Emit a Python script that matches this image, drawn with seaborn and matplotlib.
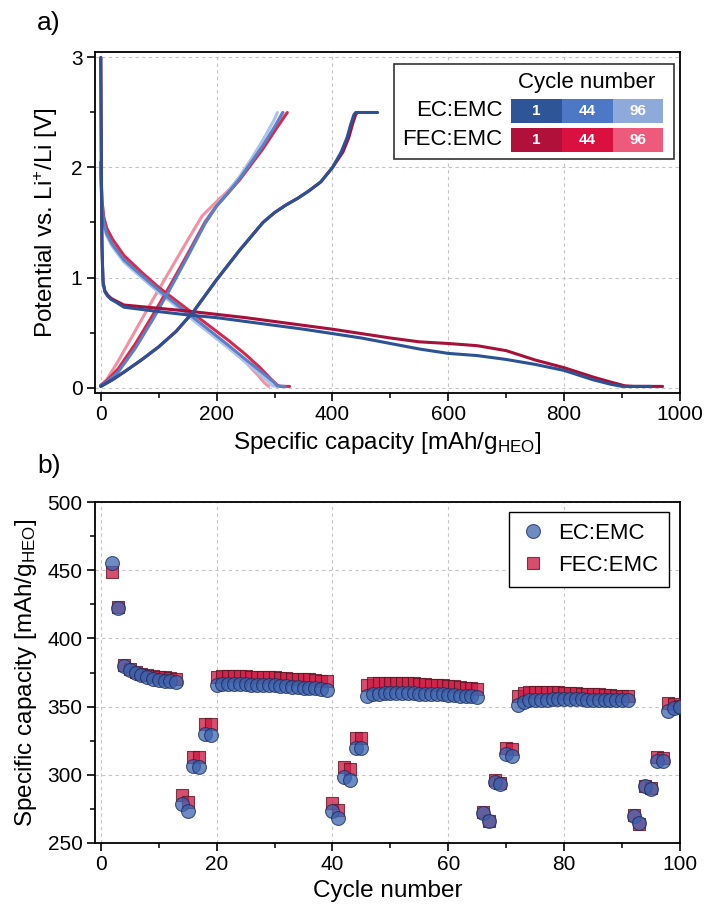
import matplotlib
matplotlib.use("Agg")
import matplotlib.pyplot as plt
from matplotlib.patches import Rectangle
from matplotlib.lines import Line2D
from matplotlib.ticker import MultipleLocator
import seaborn as sns
import pandas as pd

# ---------------- data: voltage profiles (panel a) ----------------
# cycle 1
ec1_dis_x = [0, 0.5, 1, 1.5, 2, 3, 4, 7, 12, 18, 25, 40, 100, 150, 200, 250, 300, 350, 400, 450, 500, 550, 600, 650, 700, 750, 800, 850, 880, 900, 915, 950]
ec1_dis_y = [3.0, 2.5, 2.0, 1.6, 1.3, 1.1, 0.95, 0.87, 0.83, 0.80, 0.78, 0.73, 0.69, 0.66, 0.635, 0.60, 0.565, 0.53, 0.49, 0.45, 0.40, 0.35, 0.31, 0.29, 0.255, 0.21, 0.155, 0.07, 0.03, 0.01, 0.01, 0.01]
fec1_dis_x = [0, 0.5, 1, 1.5, 2, 3, 4, 7, 12, 18, 25, 40, 100, 150, 200, 250, 300, 350, 400, 450, 500, 550, 600, 650, 700, 750, 800, 850, 880, 905, 920, 970]
fec1_dis_y = [3.0, 2.5, 2.0, 1.6, 1.3, 1.1, 0.96, 0.88, 0.84, 0.81, 0.79, 0.75, 0.72, 0.695, 0.665, 0.635, 0.60, 0.565, 0.53, 0.49, 0.45, 0.415, 0.40, 0.38, 0.335, 0.25, 0.18, 0.095, 0.05, 0.015, 0.01, 0.01]
ec1_cha_x = [0, 10, 20, 40, 70, 100, 130, 160, 200, 240, 280, 300, 320, 340, 360, 380, 400, 415, 425, 432, 437, 440, 478]
ec1_cha_y = [0.01, 0.04, 0.07, 0.14, 0.25, 0.37, 0.51, 0.69, 0.98, 1.25, 1.50, 1.59, 1.66, 1.72, 1.79, 1.87, 2.0, 2.14, 2.27, 2.40, 2.48, 2.5, 2.5]
fec1_cha_x = [0, 10, 20, 40, 70, 100, 130, 160, 200, 240, 280, 300, 320, 340, 360, 380, 400, 418, 428, 435, 440, 443]
fec1_cha_y = [0.01, 0.04, 0.07, 0.14, 0.25, 0.37, 0.51, 0.69, 0.98, 1.25, 1.50, 1.59, 1.66, 1.72, 1.79, 1.87, 2.0, 2.14, 2.27, 2.40, 2.48, 2.5]
# cycle 44
ec44_dis_x = [0, 1, 2, 5, 10, 20, 40, 70, 100, 130, 160, 190, 220, 250, 280, 298, 305, 318]
ec44_dis_y = [2.0, 1.8, 1.65, 1.5, 1.4, 1.3, 1.16, 1.02, 0.885, 0.76, 0.635, 0.51, 0.385, 0.255, 0.13, 0.05, 0.015, 0.01]
fec44_dis_x = [0, 1, 2, 5, 10, 20, 40, 70, 100, 130, 160, 190, 220, 250, 275, 295, 305, 310, 326]
fec44_dis_y = [2.05, 1.85, 1.7, 1.55, 1.45, 1.35, 1.2, 1.05, 0.91, 0.79, 0.67, 0.55, 0.43, 0.30, 0.18, 0.07, 0.02, 0.01, 0.01]
ec44_cha_x = [0, 10, 30, 60, 90, 120, 150, 180, 200, 220, 240, 260, 280, 300, 314]
ec44_cha_y = [0.02, 0.05, 0.14, 0.36, 0.62, 0.90, 1.19, 1.49, 1.65, 1.77, 1.9, 2.05, 2.2, 2.37, 2.5]
fec44_cha_x = [0, 10, 30, 60, 90, 120, 150, 180, 200, 220, 240, 260, 280, 300, 322]
fec44_cha_y = [0.02, 0.06, 0.17, 0.40, 0.66, 0.93, 1.21, 1.50, 1.65, 1.77, 1.89, 2.03, 2.17, 2.33, 2.5]
# cycle 96
ec96_dis_x = [0, 1, 2, 5, 10, 20, 40, 70, 100, 130, 160, 190, 220, 250, 275, 290, 297, 305]
ec96_dis_y = [1.95, 1.75, 1.6, 1.47, 1.38, 1.28, 1.14, 1.0, 0.865, 0.74, 0.61, 0.485, 0.36, 0.23, 0.12, 0.05, 0.015, 0.01]
fec96_dis_x = [0, 1, 2, 5, 10, 20, 40, 70, 100, 130, 160, 190, 220, 250, 270, 283, 290]
fec96_dis_y = [2.05, 1.85, 1.7, 1.55, 1.45, 1.34, 1.19, 1.04, 0.89, 0.76, 0.63, 0.50, 0.37, 0.23, 0.12, 0.04, 0.01]
ec96_cha_x = [0, 10, 30, 60, 90, 120, 150, 180, 200, 220, 240, 260, 280, 300, 305]
ec96_cha_y = [0.02, 0.05, 0.15, 0.38, 0.65, 0.93, 1.22, 1.51, 1.66, 1.78, 1.92, 2.08, 2.25, 2.44, 2.5]
fec96_cha_x = [0, 10, 30, 60, 90, 120, 150, 175, 200, 220, 240, 260, 280, 300, 315]
fec96_cha_y = [0.02, 0.07, 0.24, 0.52, 0.80, 1.07, 1.34, 1.56, 1.69, 1.79, 1.91, 2.05, 2.2, 2.36, 2.5]

# ---------------- data: cycling (panel b) ----------------
cycles = list(range(2, 101))
ec_capacity = [455.5, 422.5, 380, 377, 374.5, 373, 371.5, 370.5, 369.5, 369, 368.5, 368,
               278.5, 273.5, 306.5, 305.5, 330, 329.5,
               366, 366.5, 366.5, 366.5, 366.5, 366.5, 366, 366, 366, 365.5, 365.5, 365, 365, 364.5, 364.5, 364, 364, 363.5, 363, 362.5,
               273.5, 268, 298.5, 296.5, 320, 319.5,
               357.5, 359, 359.5, 360, 360, 360, 360, 360, 360, 359.5, 359.5, 359.5, 359, 359, 358.5, 358.5, 358, 358, 357.5, 357,
               272, 266, 295, 293, 315, 314,
               351.5, 353.5, 354.5, 355, 355, 355, 355.5, 355.5, 355.5, 355.5, 355.5, 355.5, 355, 355, 355, 355, 354.5, 354.5, 354.5, 354.5,
               270, 264.5, 291.5, 289.5, 310, 310, 346.5, 349, 350]
fec_capacity = [449, 423, 380.5, 377.5, 375.5, 374, 373, 372.5, 372, 371.5, 371, 370.5,
                285, 280, 313, 313, 337.5, 337.5,
                372, 372.5, 372.5, 372.5, 372.5, 372.5, 372, 372, 372, 371.5, 371.5, 371, 371, 370.5, 370.5, 370, 370, 369.5, 369, 368.5,
                279.5, 274, 305.5, 304.5, 327, 327,
                366, 367, 367.5, 367.5, 367.5, 367.5, 367.5, 367, 367, 366.5, 366.5, 366, 366, 365.5, 365, 365, 364.5, 364, 363.5, 363,
                272.5, 266, 296.5, 294, 319.5, 319,
                357.5, 360, 361, 361, 361, 361, 360.5, 360.5, 360, 360, 360, 359.5, 359.5, 359, 359, 358.5, 358.5, 358, 358, 357.5,
                270.5, 264, 292, 290, 313, 312.5, 353, 352, 350.5]

electrolytes = ["EC:EMC", "FEC:EMC"]
cycle_labels = ["1", "44", "96"]

# ---------------- styling ----------------
sns.set_theme(style="ticks")
plt.rcParams["font.family"] = ["Liberation Sans", "DejaVu Sans"]
plt.rcParams["mathtext.fontset"] = "custom"
plt.rcParams["mathtext.rm"] = "Liberation Sans"
plt.rcParams["mathtext.it"] = "Liberation Sans:italic"
plt.rcParams["mathtext.bf"] = "Liberation Sans:bold"
plt.rcParams["mathtext.default"] = "regular"
for k in ["text.color", "axes.labelcolor", "xtick.color", "ytick.color", "axes.edgecolor"]:
    plt.rcParams[k] = "black"

ec_line = ["#2c5195", "#5a80c6", "#aec3e8"]
fec_line = ["#a6113b", "#d6294f", "#f290a6"]
ec_cell = ["#2e5597", "#4c78c6", "#8eaadb"]
fec_cell = ["#b0103a", "#da1140", "#ed5a7b"]

fig = plt.figure(figsize=(7.07, 9.10), dpi=100)
ax1 = fig.add_axes([95 / 707, 1 - 393 / 910, 585 / 707, 341 / 910])
ax2 = fig.add_axes([95 / 707, 1 - 843 / 910, 585 / 707, 341 / 910])

def style_axes(ax):
    for sp in ax.spines.values():
        sp.set_linewidth(1.3)
        sp.set_color("black")
    ax.tick_params(which="major", direction="out", length=6, width=1.2, labelsize=15, pad=3,
                   color="black", labelcolor="black")
    ax.tick_params(which="minor", direction="out", length=3.5, width=1.1, color="black")
    ax.tick_params(top=False, right=False)
    ax.grid(True, which="major", ls=(0, (3, 3)), color="#c4c4c4", lw=0.8)
    ax.set_axisbelow(True)

# ---- panel a ----
lw = 2.2
curves = [
    (fec96_dis_x, fec96_dis_y, fec_line[2]), (fec96_cha_x, fec96_cha_y, fec_line[2]),
    (ec96_dis_x, ec96_dis_y, ec_line[2]), (ec96_cha_x, ec96_cha_y, ec_line[2]),
    (fec44_dis_x, fec44_dis_y, fec_line[1]), (fec44_cha_x, fec44_cha_y, fec_line[1]),
    (ec44_dis_x, ec44_dis_y, ec_line[1]), (ec44_cha_x, ec44_cha_y, ec_line[1]),
    (fec1_dis_x, fec1_dis_y, fec_line[0]), (fec1_cha_x, fec1_cha_y, fec_line[0]),
    (ec1_dis_x, ec1_dis_y, ec_line[0]), (ec1_cha_x, ec1_cha_y, ec_line[0]),
]
for cx, cy, col in curves:
    sns.lineplot(x=cx, y=cy, sort=False, estimator=None, ax=ax1, color=col, lw=lw)

ax1.set_xlim(-10, 1000)
ax1.set_ylim(-0.05, 3.05)
ax1.xaxis.set_major_locator(MultipleLocator(200))
ax1.xaxis.set_minor_locator(MultipleLocator(100))
ax1.yaxis.set_major_locator(MultipleLocator(1))
ax1.yaxis.set_minor_locator(MultipleLocator(0.5))
style_axes(ax1)
ax1.set_xlabel("Specific capacity [mAh/g$_{HEO}$]", fontsize=17.5, labelpad=4)
ax1.set_ylabel("Potential vs. Li$^{+}$/Li [V]", fontsize=17.5, labelpad=8)

# custom legend table
tr = ax1.transAxes
ax1.add_patch(Rectangle((0.511, 0.686), 0.479, 0.279, transform=tr, facecolor="white",
                        edgecolor="#333333", lw=1.2, zorder=5))
ax1.text(0.841, 0.911, "Cycle number", transform=tr, ha="center", va="center", fontsize=16, zorder=6)
xe = [0.711, 0.798, 0.885, 0.971]
rows = [(0.791, 0.072, ec_cell, electrolytes[0]), (0.706, 0.072, fec_cell, electrolytes[1])]
for y0, h, cols, lab in rows:
    ax1.text(0.696, y0 + h / 2, lab, transform=tr, ha="right", va="center", fontsize=16, zorder=6)
    for i in range(3):
        ax1.add_patch(Rectangle((xe[i], y0), xe[i + 1] - xe[i], h, transform=tr,
                                facecolor=cols[i], edgecolor="none", zorder=6))
        ax1.text((xe[i] + xe[i + 1]) / 2, y0 + h / 2, cycle_labels[i], transform=tr, ha="center",
                 va="center", fontsize=11, color="white", fontweight="bold", zorder=7)

# ---- panel b ----
ec_face, ec_edge = "#3d64b0", "#1c2b58"
fec_face, fec_edge = "#cc1c45", "#5a1424"
df_fec = pd.DataFrame({"Cycle": cycles, "Capacity": fec_capacity})
df_ec = pd.DataFrame({"Cycle": cycles, "Capacity": ec_capacity})
sns.scatterplot(data=df_fec, x="Cycle", y="Capacity", marker="s", s=85, color=fec_face,
                edgecolor=fec_edge, linewidth=0.8, alpha=0.78, ax=ax2, zorder=3)
sns.scatterplot(data=df_ec, x="Cycle", y="Capacity", marker="o", s=100, color=ec_face,
                edgecolor=ec_edge, linewidth=0.8, alpha=0.75, ax=ax2, zorder=4)
ax2.set_xlim(-1, 100)
ax2.set_ylim(250, 500)
ax2.xaxis.set_major_locator(MultipleLocator(20))
ax2.xaxis.set_minor_locator(MultipleLocator(10))
ax2.yaxis.set_major_locator(MultipleLocator(50))
ax2.yaxis.set_minor_locator(MultipleLocator(25))
style_axes(ax2)
ax2.set_xlabel("Cycle number", fontsize=17.5, labelpad=4)
ax2.set_ylabel("Specific capacity [mAh/g$_{HEO}$]", fontsize=17.5, labelpad=6)

handles = [
    Line2D([], [], ls="none", marker="o", markersize=10, markerfacecolor=ec_face, markeredgecolor=ec_edge,
           markeredgewidth=0.8, alpha=0.75),
    Line2D([], [], ls="none", marker="s", markersize=9, markerfacecolor=fec_face, markeredgecolor=fec_edge,
           markeredgewidth=0.8, alpha=0.78),
]
leg = ax2.legend(handles, electrolytes, loc="upper right", bbox_to_anchor=(0.981, 0.971), borderaxespad=0,
                 fontsize=16, frameon=True, fancybox=False, edgecolor="black", framealpha=1,
                 handletextpad=0.5, borderpad=0.5, labelspacing=0.5, handlelength=1.2)
leg.get_frame().set_linewidth(1.0)

fig.text(37 / 707, 1 - 23 / 910, "a)", fontsize=19, ha="left", va="center")
fig.text(37 / 707, 1 - 466 / 910, "b)", fontsize=19, ha="left", va="center")

fig.savefig("out.png", dpi=100)
